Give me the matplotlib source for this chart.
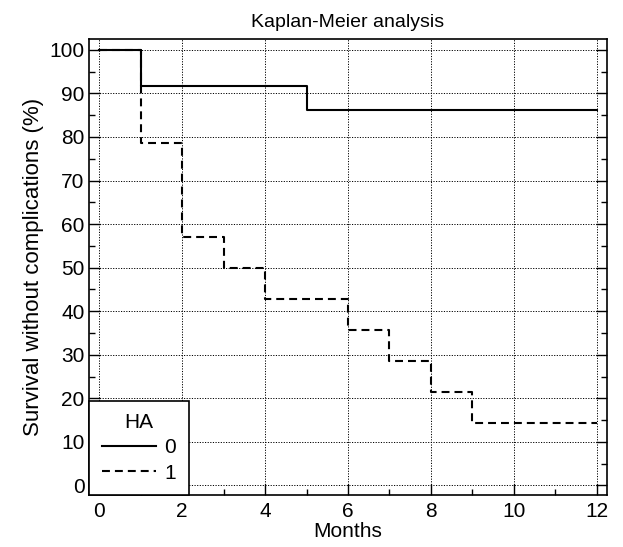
import numpy as np
import matplotlib.pyplot as plt
from matplotlib.ticker import MultipleLocator

plt.rcParams['font.family'] = ['Liberation Sans', 'DejaVu Sans']

# Kaplan-Meier step data (months, survival %)
months_0 = [0, 1, 5, 12]
surv_0 = [100, 91.7, 86.1, 86.1]

months_1 = [0, 1, 2, 3, 4, 6, 7, 8, 9, 12]
surv_1 = [100, 78.6, 57.1, 50.0, 42.9, 35.7, 28.6, 21.4, 14.3, 14.3]

fig = plt.figure(figsize=(6.23, 5.47), dpi=100)
ax = fig.add_axes([0.1433, 0.095, 0.8305, 0.833])

ax.step(months_0, surv_0, where='post', color='black', lw=1.5, label='0')
ax.step(months_1, surv_1, where='post', color='black', lw=1.5,
        linestyle=(0, (3.8, 2.4)), label='1')

ax.set_xlim(-0.24, 12.24)
ax.set_ylim(-2.2, 102.4)
ax.set_xticks(np.arange(0, 13, 2))
ax.set_yticks(np.arange(0, 101, 10))
ax.xaxis.set_minor_locator(MultipleLocator(1))
ax.yaxis.set_minor_locator(MultipleLocator(5))
ax.tick_params(which='both', direction='in', right=True, top=False,
               labelsize=15, color='black')
ax.tick_params(axis='x', which='major', pad=5)
ax.tick_params(which='major', length=8, width=1)
ax.tick_params(which='minor', length=4, width=1)
ax.grid(True, which='major', color='black', lw=0.7, linestyle=(0, (1.2, 1.5)))
for s in ax.spines.values():
    s.set_linewidth(1.2)

ax.set_title('Kaplan-Meier analysis', fontsize=14, pad=9)
ax.set_xlabel('Months', fontsize=15, labelpad=1)
ax.set_ylabel('Survival without complications (%)', fontsize=16, labelpad=4)

leg = ax.legend(title='HA', loc='lower left', bbox_to_anchor=(0, 0),
                frameon=True, fancybox=False, edgecolor='black', framealpha=1,
                fontsize=15, title_fontsize=15, handlelength=2.6,
                handletextpad=0.4, borderpad=0.6, labelspacing=0.3,
                borderaxespad=0)
leg.get_frame().set_linewidth(1.2)

fig.savefig('out.png', dpi=100)
